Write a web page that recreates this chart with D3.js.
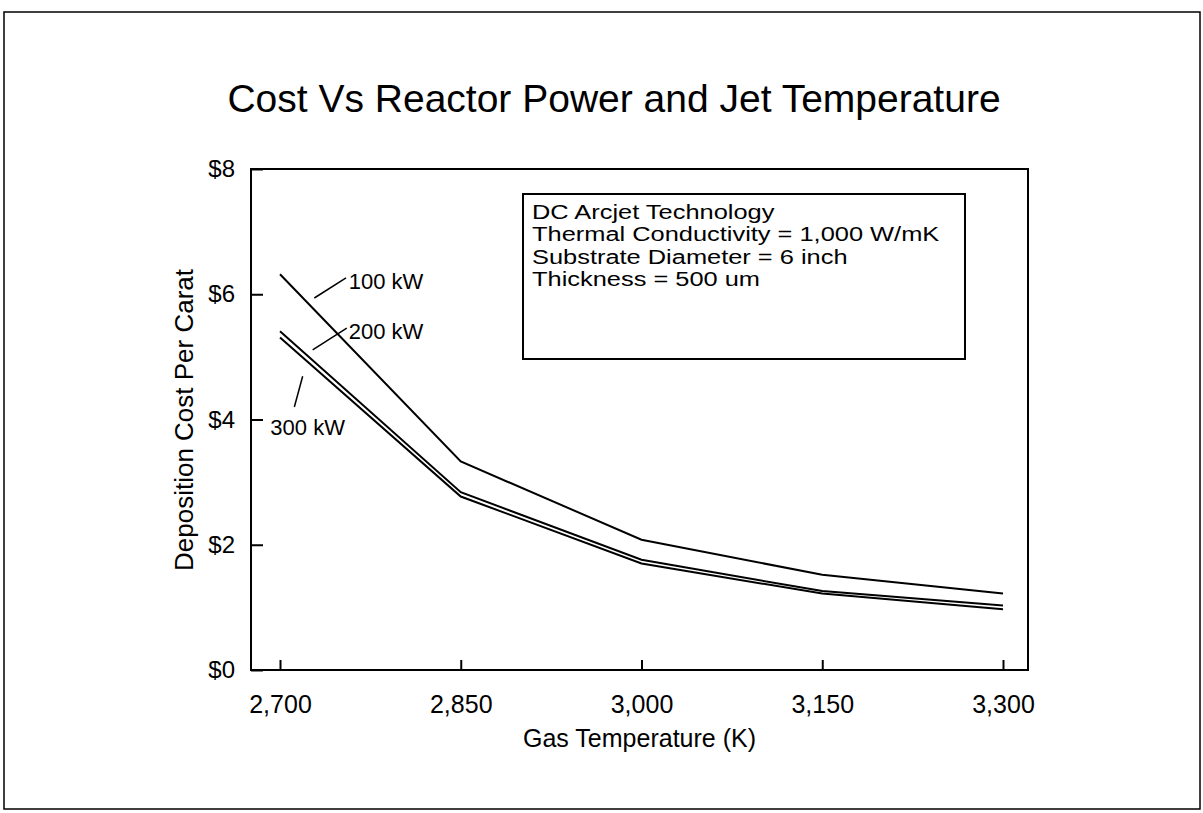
<!DOCTYPE html>
<html>
<head>
<meta charset="utf-8">
<script src="https://cdn.jsdelivr.net/npm/d3@7"></script>
<style>
  body { margin: 0; background: #fff; }
  svg text { font-family: "Liberation Sans", Arial, Helvetica, sans-serif; fill: #000; }
</style>
</head>
<body>
<div id="chart"></div>
<script>
// gas temperature (K) on the x axis
var temps = [2700, 2850, 3000, 3150, 3300];

// deposition cost per carat ($)
var cost100 = [6.32, 3.33, 2.08, 1.52, 1.22];
var cost200 = [5.41, 2.84, 1.76, 1.26, 1.03];
var cost300 = [5.31, 2.77, 1.70, 1.22, 0.97];

var seriesNames = ["100 kW", "200 kW", "300 kW"];

var yTicks = [0, 2, 4, 6, 8];
var xTicks = [2700, 2850, 3000, 3150, 3300];

var notes = [
    "DC Arcjet Technology",
    "Thermal Conductivity = 1,000 W/mK",
    "Substrate Diameter = 6 inch",
    "Thickness = 500 um"
];

// where the series labels and their little leader lines sit (data units)
var labelSpots = [
    {name: "100 kW", tx: 2757, ty: 6.08, x1: 2728.5, y1: 5.94, x2: 2754.8, y2: 6.26},
    {name: "200 kW", tx: 2757, ty: 5.29, x1: 2727.1, y1: 5.11, x2: 2755.4, y2: 5.46},
    {name: "300 kW", tx: 2692, ty: 3.75, x1: 2711.9, y1: 4.20, x2: 2718.8, y2: 4.69}
];

var W = 1203, H = 813;

// plot frame
var frame = {left: 251, top: 169, right: 1028, bottom: 670};

var svg = d3.select("#chart").append("svg")
    .attr("width", W)
    .attr("height", H);

// outer page border
svg.append("rect")
    .attr("x", 4)
    .attr("y", 12)
    .attr("width", 1196)
    .attr("height", 797)
    .attr("fill", "none")
    .attr("stroke", "#000")
    .attr("stroke-width", 1.5);

var x = d3.scaleLinear().domain([2700, 3300]).range([280, 1003]);
var y = d3.scaleLinear().domain([0, 8]).range([frame.bottom, frame.top]);

// title
svg.append("text")
    .attr("x", 614)
    .attr("y", 112)
    .attr("text-anchor", "middle")
    .style("font-size", "39px")
    .text("Cost Vs Reactor Power and Jet Temperature");

// frame box
svg.append("rect")
    .attr("x", frame.left)
    .attr("y", frame.top)
    .attr("width", frame.right - frame.left)
    .attr("height", frame.bottom - frame.top)
    .attr("fill", "none")
    .attr("stroke", "#000")
    .attr("stroke-width", 2);

// y axis, ticks pointing into the plot
var yAxis = svg.append("g")
    .attr("transform", "translate(" + frame.left + ",0)")
    .call(d3.axisRight(y).tickValues(yTicks).tickSize(12).tickFormat(function (d) { return "$" + d; }));
yAxis.select(".domain").remove();
yAxis.selectAll("line").attr("stroke", "#000").attr("stroke-width", 2);
yAxis.selectAll("text")
    .attr("x", -16)
    .attr("text-anchor", "end")
    .style("font-size", "24px");

// x axis, ticks pointing up
var xAxis = svg.append("g")
    .attr("transform", "translate(0," + frame.bottom + ")")
    .call(d3.axisTop(x).tickValues(xTicks).tickSize(10).tickFormat(d3.format(",")));
xAxis.select(".domain").remove();
xAxis.selectAll("line").attr("stroke", "#000").attr("stroke-width", 2);
xAxis.selectAll("text")
    .attr("y", 43)
    .attr("dy", 0)
    .style("font-size", "25px");

// axis titles
svg.append("text")
    .attr("x", (frame.left + frame.right) / 2)
    .attr("y", 747)
    .attr("text-anchor", "middle")
    .style("font-size", "25px")
    .text("Gas Temperature (K)");

svg.append("text")
    .attr("transform", "translate(193,420) rotate(-90)")
    .attr("text-anchor", "middle")
    .style("font-size", "26px")
    .text("Deposition Cost Per Carat");

// the three cost curves
var line = d3.line()
    .x(function (d) { return x(d[0]); })
    .y(function (d) { return y(d[1]); });

[cost100, cost200, cost300].forEach(function (vals, i) {
    svg.append("path")
        .datum(temps.map(function (t, j) { return [t, vals[j]]; }))
        .attr("class", "series s" + i)
        .attr("d", line)
        .attr("fill", "none")
        .attr("stroke", "#000")
        .attr("stroke-width", 2);
});

// series labels with leader lines
labelSpots.forEach(function (s) {
    svg.append("line")
        .attr("x1", x(s.x1))
        .attr("y1", y(s.y1))
        .attr("x2", x(s.x2))
        .attr("y2", y(s.y2))
        .attr("stroke", "#000")
        .attr("stroke-width", 1.5);
    svg.append("text")
        .attr("x", x(s.tx))
        .attr("y", y(s.ty))
        .style("font-size", "22px")
        .text(s.name);
});

// notes box (the scanned lettering is wide and short, so stretch it sideways)
var box = {x: 523, y: 194, w: 442, h: 165};
svg.append("rect")
    .attr("x", box.x)
    .attr("y", box.y)
    .attr("width", box.w)
    .attr("height", box.h)
    .attr("fill", "#fff")
    .attr("stroke", "#000")
    .attr("stroke-width", 2);

svg.append("g")
    .attr("transform", "translate(" + (box.x + 9) + ",0) scale(1.27,1)")
    .selectAll("text")
    .data(notes)
    .enter().append("text")
    .attr("x", 0)
    .attr("y", function (d, i) { return 219 + i * 22.5; })
    .style("font-size", "20px")
    .text(function (d) { return d; });
</script>
</body>
</html>
